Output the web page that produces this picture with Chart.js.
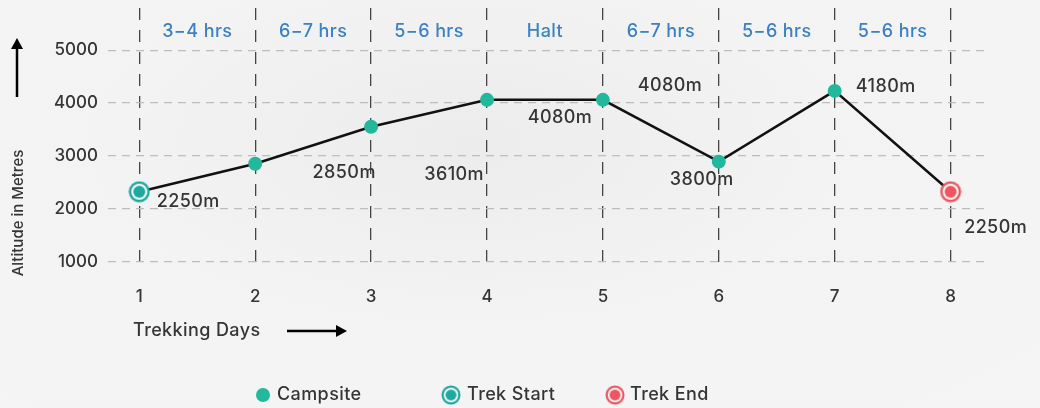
<!DOCTYPE html>
<html>
<head>
<meta charset="utf-8">
<script src="https://cdn.jsdelivr.net/npm/chart.js@4.4.0/dist/chart.umd.min.js"></script>
<style>
html, body { margin: 0; padding: 0; }
body {
    width: 1040px; height: 408px; overflow: hidden;
    background: radial-gradient(ellipse at 45% 35%, #ececec 0%, #f3f3f3 45%, #f5f5f5 100%);
}
#wrap { position: relative; width: 1040px; height: 408px; }
</style>
</head>
<body>
<div id="wrap"><canvas id="trekChart" width="1040" height="408"></canvas></div>
<script>
'use strict';

// Data
const days = [1, 2, 3, 4, 5, 6, 7, 8];
const altitude = [2320, 2850, 3550, 4060, 4060, 2890, 4230, 2320];
const altitudeLabels = ['2250m', '2850m', '3610m', '4080m', '4080m', '3800m', '4180m', '2250m'];
const durations = ['3−4 hrs', '6−7 hrs', '5−6 hrs', 'Halt', '6−7 hrs', '5−6 hrs', '5−6 hrs'];
const yTicks = [1000, 2000, 3000, 4000, 5000];
const markerTypes = ['start', 'camp', 'camp', 'camp', 'camp', 'camp', 'camp', 'end'];

const FONT = 'Inter, "Open Sans", sans-serif';
const TEXT = '#353535';
const CAMP = '#22b89b';
const START = '#1ea8a2';
const END = '#ee5561';

// label offset from its point (dx, dy to label centre)
const labelOffsets = [[49, 10], [89, 9], [83, 48], [73, 18], [67, -14], [-17, 18], [51, -4], [45, 36]];

const ringMarker = (color) => {
    const c = document.createElement('canvas');
    c.width = 22; c.height = 22;
    const g = c.getContext('2d');
    g.beginPath(); g.arc(11, 11, 10.5, 0, Math.PI * 2); g.fillStyle = color; g.fill();
    g.beginPath(); g.arc(11, 11, 8, 0, Math.PI * 2); g.fillStyle = '#fff'; g.fill();
    g.beginPath(); g.arc(11, 11, 6, 0, Math.PI * 2); g.fillStyle = color; g.fill();
    return c;
};
const startImg = ringMarker(START);
const endImg = ringMarker(END);

const arrow = (ctx, x1, y1, x2, y2) => {
    const ang = Math.atan2(y2 - y1, x2 - x1);
    ctx.save();
    ctx.strokeStyle = '#000';
    ctx.fillStyle = '#000';
    ctx.lineWidth = 2.5;
    ctx.beginPath();
    ctx.moveTo(x1, y1);
    ctx.lineTo(x2 - 8 * Math.cos(ang), y2 - 8 * Math.sin(ang));
    ctx.stroke();
    ctx.translate(x2, y2);
    ctx.rotate(ang);
    ctx.beginPath();
    ctx.moveTo(0, 0);
    ctx.lineTo(-11, -6);
    ctx.lineTo(-11, 6);
    ctx.closePath();
    ctx.fill();
    ctx.restore();
};

const extrasPlugin = {
    id: 'extras',
    afterDraw(chart) {
        const ctx = chart.ctx;
        const xs = chart.scales.x;
        const meta = chart.getDatasetMeta(0);
        ctx.save();
        ctx.letterSpacing = '0.4px';

        // durations between days
        ctx.font = '500 18px ' + FONT;
        ctx.fillStyle = '#3b80c8';
        ctx.textAlign = 'center';
        ctx.textBaseline = 'middle';
        durations.forEach((d, i) => {
            const x = (xs.getPixelForValue(days[i]) + xs.getPixelForValue(days[i + 1])) / 2;
            ctx.fillText(d, x, 32);
        });

        // altitude labels
        ctx.fillStyle = TEXT;
        meta.data.forEach((pt, i) => {
            const o = labelOffsets[i];
            ctx.fillText(altitudeLabels[i], pt.x + o[0], pt.y + o[1]);
        });

        // axis titles
        ctx.letterSpacing = '0px';
        ctx.font = '500 15px ' + FONT;
        ctx.save();
        ctx.translate(18, 213);
        ctx.rotate(-Math.PI / 2);
        ctx.fillText('Altitude in Metres', 0, 0);
        ctx.restore();
        arrow(ctx, 17, 97, 17, 38);

        ctx.letterSpacing = '0.4px';
        ctx.font = '500 18px ' + FONT;
        ctx.textAlign = 'left';
        ctx.fillText('Trekking Days', 133, 331);
        arrow(ctx, 287, 331, 347, 331);

        // legend
        const ly = 395;
        ctx.beginPath(); ctx.arc(263, ly, 7, 0, Math.PI * 2); ctx.fillStyle = CAMP; ctx.fill();
        ctx.drawImage(startImg, 451 - 10, ly - 10, 20, 20);
        ctx.drawImage(endImg, 615 - 10, ly - 10, 20, 20);
        ctx.fillStyle = TEXT;
        ctx.fillText('Campsite', 277, ly);
        ctx.fillText('Trek Start', 467, ly);
        ctx.fillText('Trek End', 630, ly);
        ctx.restore();
    }
};

const ctx = document.getElementById('trekChart');

new Chart(ctx, {
    type: 'line',
    data: {
        datasets: [{
            data: days.map((d, i) => ({ x: d, y: altitude[i] })),
            borderColor: '#111',
            borderWidth: 2.5,
            tension: 0,
            pointStyle: markerTypes.map(t => t === 'start' ? startImg : t === 'end' ? endImg : 'circle'),
            pointRadius: 7,
            pointBackgroundColor: CAMP,
            pointBorderWidth: 0
        }]
    },
    options: {
        responsive: false,
        animation: false,
        layout: { padding: { top: 8, right: 50, bottom: 0, left: 0 } },
        scales: {
            x: {
                type: 'linear',
                min: 0.73,
                max: 8.34,
                afterBuildTicks: (s) => { s.ticks = days.map(v => ({ value: v })); },
                afterFit: (s) => { s.height = 136; s.paddingLeft = 0; s.paddingRight = 0; },
                grid: { color: '#444', lineWidth: 1.3, drawTicks: false },
                border: { display: false, dash: [12, 10] },
                ticks: { color: TEXT, padding: 15, font: { size: 17, weight: 500, family: FONT } }
            },
            y: {
                min: 800,
                max: 5800,
                afterBuildTicks: (s) => { s.ticks = yTicks.map(v => ({ value: v })); },
                afterFit: (s) => { s.width = 108; s.paddingTop = 0; s.paddingBottom = 0; },
                grid: { color: '#bdbdbd', lineWidth: 1.2, drawTicks: false },
                border: { display: false, dash: [8, 6] },
                ticks: {
                    color: TEXT, padding: 10,
                    font: { size: 17, weight: 500, family: FONT },
                    callback: (v) => String(v)
                }
            }
        },
        plugins: {
            legend: { display: false },
            tooltip: { enabled: false }
        }
    },
    plugins: [extrasPlugin]
});
</script>
</body>
</html>
